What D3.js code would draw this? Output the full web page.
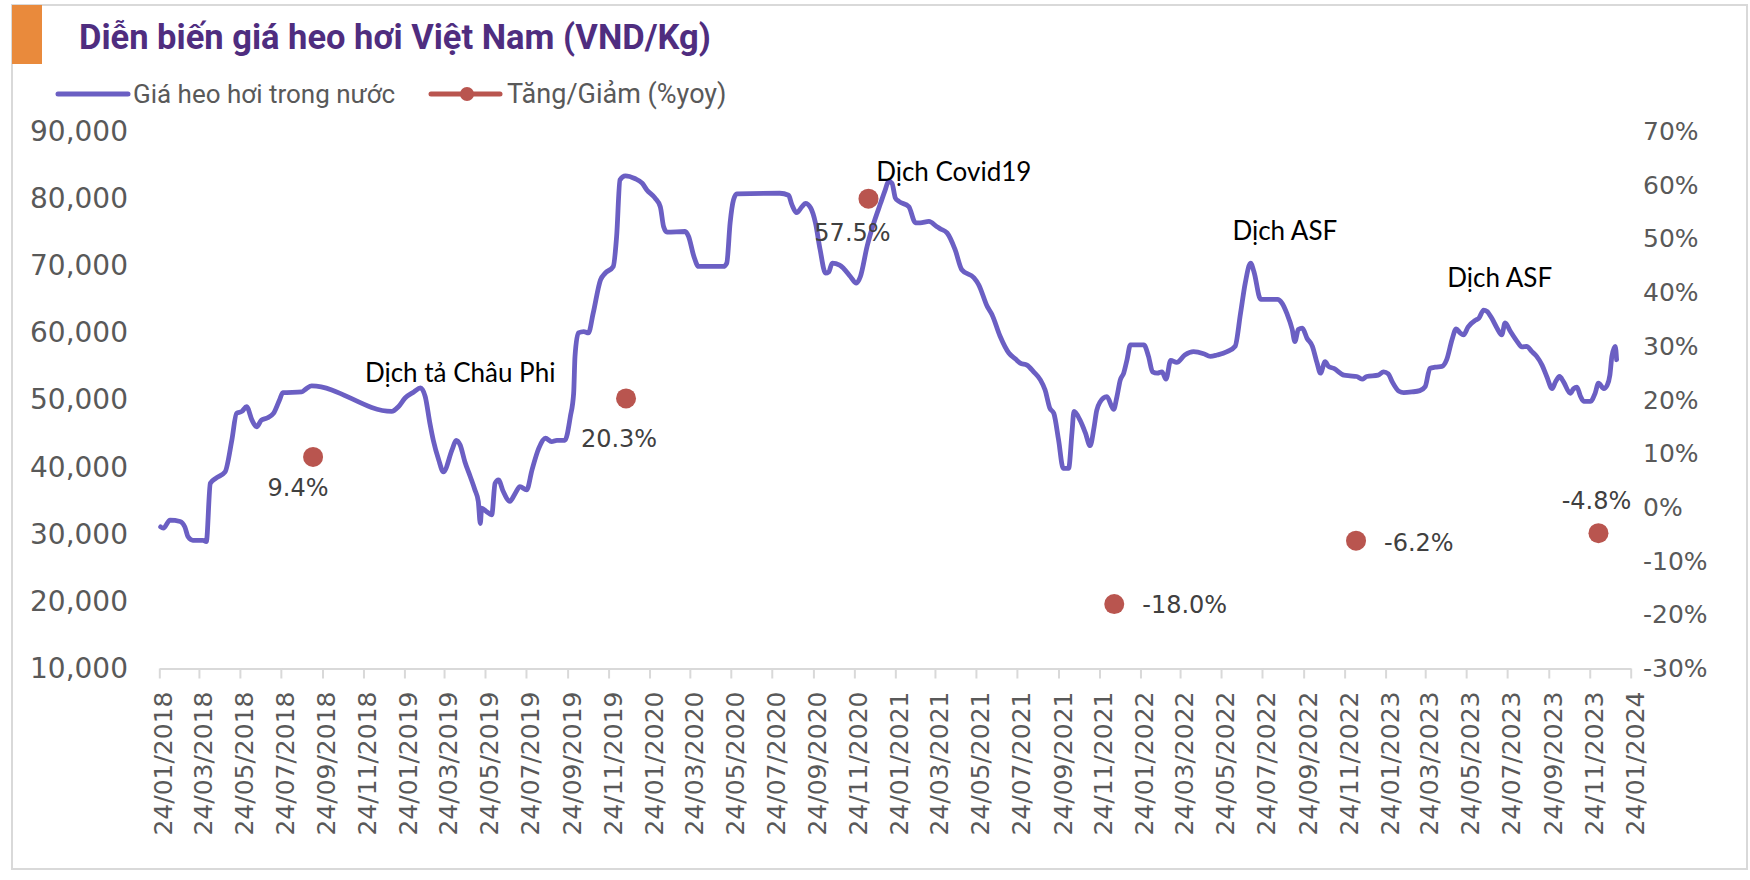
<!DOCTYPE html>
<html lang="vi">
<head>
<meta charset="utf-8">
<title>Diễn biến giá heo hơi Việt Nam</title>
<style>
  body { margin: 0; background: #fff; }
  svg { display: block; }
  .axis text { fill: #595959; font-family: "DejaVu Sans", sans-serif; }
  .axis .domain, .axis line { stroke: #d9d9d9; stroke-width: 2; }
</style>
</head>
<body>
<div id="chart"></div>
<script src="https://cdnjs.cloudflare.com/ajax/libs/d3/7.8.5/d3.min.js"></script>
<script>
// weekly live hog price, VND/kg
var priceDates = [
  "2018-01-26","2018-01-30","2018-02-09","2018-02-24","2018-03-03","2018-03-08","2018-03-15","2018-03-30","2018-04-04","2018-04-10","2018-04-19","2018-05-02","2018-05-12","2018-05-19","2018-05-27","2018-06-03","2018-06-11","2018-06-18","2018-06-25","2018-07-03","2018-07-13","2018-07-22","2018-07-27","2018-08-24","2018-08-31","2018-09-08",
  "2019-01-05","2019-01-15","2019-01-25","2019-02-07","2019-02-17","2019-02-24","2019-03-03","2019-03-08","2019-03-16","2019-03-23","2019-04-05","2019-04-11","2019-04-17","2019-04-24","2019-05-02","2019-05-09","2019-05-14","2019-05-17","2019-05-19","2019-05-26","2019-06-03","2019-06-08","2019-06-13","2019-06-20","2019-06-30","2019-07-08","2019-07-15","2019-07-25","2019-08-02","2019-08-12","2019-08-22","2019-08-31","2019-09-08","2019-09-20","2019-09-28","2019-10-03","2019-10-05","2019-10-10","2019-10-18","2019-10-25","2019-11-01","2019-11-12","2019-11-19","2019-12-01","2019-12-06","2019-12-11","2019-12-19",
  "2020-01-02","2020-01-13","2020-01-20","2020-02-01","2020-02-09","2020-02-14","2020-02-19","2020-03-17","2020-03-22","2020-03-30","2020-04-06","2020-05-13","2020-05-18","2020-05-23","2020-05-28","2020-06-02","2020-08-05","2020-08-18","2020-08-23","2020-08-30","2020-09-07","2020-09-12","2020-09-20","2020-09-27","2020-10-04","2020-10-12","2020-10-17","2020-10-22","2020-11-02","2020-11-08","2020-11-18","2020-11-27","2020-12-03","2020-12-13","2020-12-23",
  "2021-01-02","2021-01-09","2021-01-14","2021-01-19","2021-01-24","2021-01-29","2021-02-13","2021-02-23","2021-03-02","2021-03-15","2021-03-27","2021-04-01","2021-04-11","2021-04-23","2021-05-03","2021-05-21","2021-05-28","2021-06-10","2021-06-17","2021-06-29","2021-07-12","2021-07-22","2021-07-29","2021-08-08","2021-08-18","2021-08-28","2021-09-04","2021-09-11","2021-09-17","2021-09-24","2021-10-01","2021-10-09","2021-10-14","2021-10-17","2021-10-26","2021-11-03","2021-11-10","2021-11-16","2021-11-20","2021-11-30","2021-12-05","2021-12-15","2021-12-20","2021-12-25","2021-12-30",
  "2022-01-04","2022-01-09","2022-01-29","2022-02-05","2022-02-11","2022-02-18","2022-02-25","2022-03-03","2022-03-10","2022-03-19","2022-03-31","2022-04-13","2022-04-28","2022-05-08","2022-05-18","2022-06-02","2022-06-14","2022-06-22","2022-06-29","2022-07-07","2022-07-12","2022-07-22","2022-08-16","2022-08-23","2022-08-30","2022-09-07","2022-09-11","2022-09-16","2022-09-22","2022-09-29","2022-10-07","2022-10-14","2022-10-19","2022-10-26","2022-10-31","2022-11-08","2022-11-23","2022-12-02","2022-12-12","2022-12-20","2022-12-27",
  "2023-01-13","2023-01-21","2023-01-28","2023-02-03","2023-02-13","2023-02-20","2023-03-04","2023-03-16","2023-03-24","2023-03-31","2023-04-08","2023-04-18","2023-04-25","2023-05-03","2023-05-09","2023-05-15","2023-05-20","2023-05-27","2023-06-07","2023-06-12","2023-06-19","2023-06-24","2023-07-01","2023-07-09","2023-07-16","2023-07-21","2023-07-29","2023-08-08","2023-08-15","2023-08-22","2023-08-30","2023-09-06","2023-09-14","2023-09-21","2023-09-29","2023-10-04","2023-10-10","2023-10-16","2023-10-26","2023-10-31","2023-11-05","2023-11-10","2023-11-15","2023-11-25","2023-12-02","2023-12-07","2023-12-15","2023-12-20","2023-12-24","2023-12-27","2024-01-01","2024-01-03"
];
var priceValues = [
  31100,30900,32100,31900,31100,29600,29100,29100,28900,37600,38400,39300,44000,48000,48300,49000,47000,46000,47000,47300,48000,50000,51100,51200,51700,52100,
  48300,49000,50300,51200,51800,50500,46500,44000,41100,39300,42600,44000,43300,40800,38600,36600,34900,31600,33900,33400,32900,37600,38100,36400,34900,36100,37100,36600,39600,42800,44300,43800,44000,44000,47500,51000,56500,60000,60200,60000,62900,67900,68900,69900,74400,82800,83400,
  83000,82300,81300,80100,78800,75800,75000,75100,74400,71400,69900,69900,70400,76400,79800,80700,80800,80500,79100,77900,78800,79300,78600,76400,72400,68900,69100,70400,70100,69600,68400,67400,68400,72900,76400,
  79300,81300,82600,82300,80100,79600,78800,76400,76400,76600,75800,75500,74900,72400,69400,68200,67200,63900,62700,59500,57000,56100,55500,55200,54200,53000,51500,48800,48000,44100,39800,39800,45100,48300,47000,45100,43200,46000,48500,50300,50500,48600,50500,53000,54000,
  56000,58200,58200,56500,54200,54000,54200,53100,55900,55600,56700,57200,56900,56500,56700,57200,58000,62900,67400,70400,69100,65000,65000,64400,62900,60500,58700,60500,60700,59200,58000,55500,54000,55700,55000,54700,53700,53600,53500,53100,53500,
  53700,54200,53900,52700,51300,51100,51200,51400,52000,54700,54900,55000,56000,59000,60600,60000,59700,60900,61900,62200,63400,63200,62200,60700,59700,61500,60200,58700,57900,58000,57200,56500,55200,53500,51700,52700,53500,52700,51000,51700,51900,50600,49800,49800,51000,52500,51700,52200,53700,56500,58000,56000
];

// year-on-year change points
var yoyDates = ["2018-09-10","2019-12-20","2020-12-15","2021-12-16","2022-12-11","2023-12-07"];
var yoyValues = [0.094, 0.203, 0.575, -0.180, -0.062, -0.048];

// event notes (centred on date / price)
var noteTexts = ["Dịch tả Châu Phi", "Dịch Covid19", "Dịch ASF", "Dịch ASF"];
var noteDates = ["2019-04-17", "2021-04-21", "2022-08-27", "2023-07-13"];
var noteValues = [52700, 82650, 73860, 66850];

var xTickLabels = [
  "24/01/2018","24/03/2018","24/05/2018","24/07/2018","24/09/2018","24/11/2018",
  "24/01/2019","24/03/2019","24/05/2019","24/07/2019","24/09/2019","24/11/2019",
  "24/01/2020","24/03/2020","24/05/2020","24/07/2020","24/09/2020","24/11/2020",
  "24/01/2021","24/03/2021","24/05/2021","24/07/2021","24/09/2021","24/11/2021",
  "24/01/2022","24/03/2022","24/05/2022","24/07/2022","24/09/2022","24/11/2022",
  "24/01/2023","24/03/2023","24/05/2023","24/07/2023","24/09/2023","24/11/2023",
  "24/01/2024"
];
var leftTicks = [10000, 20000, 30000, 40000, 50000, 60000, 70000, 80000, 90000];
var rightTicks = [-0.3, -0.2, -0.1, 0, 0.1, 0.2, 0.3, 0.4, 0.5, 0.6, 0.7];

var w = 1750, h = 880;
var parseISO = d3.timeParse("%Y-%m-%d");
var parseTick = d3.timeParse("%d/%m/%Y");
var fmtTick = d3.timeFormat("%d/%m/%Y");
var fmtPct0 = d3.format(".0%");
var fmtPct1 = d3.format(".1%");
function hyphen(s) { return s.replace("\u2212", "-"); }

var tickDates = xTickLabels.map(parseTick);

var xScale = d3.scaleTime()
  .domain([tickDates[0], tickDates[tickDates.length - 1]])
  .range([159.3, 1630.7]);
var yLeft = d3.scaleLinear().domain([10000, 90000]).range([668.5, 131.5]);
var yRight = d3.scaleLinear().domain([-0.3, 0.7]).range([668.5, 131.5]);

var svg = d3.select("#chart").append("svg")
  .attr("width", w)
  .attr("height", h);

// frame + header block
svg.append("rect")
  .attr("x", 12).attr("y", 5)
  .attr("width", 1735).attr("height", 864)
  .attr("fill", "#fff")
  .attr("stroke", "#d9d9d9")
  .attr("stroke-width", 2);

svg.append("rect")
  .attr("x", 12).attr("y", 5)
  .attr("width", 30).attr("height", 59)
  .attr("fill", "#e98a3c");

svg.append("text")
  .attr("x", 79).attr("y", 49)
  .attr("font-family", "Roboto, sans-serif")
  .attr("font-weight", 700)
  .attr("font-size", 34.5)
  .attr("fill", "#4f2d7f")
  .text("Diễn biến giá heo hơi Việt Nam (VND/Kg)");

// legend
var lg = svg.append("g").attr("font-family", "Roboto, sans-serif").attr("font-size", 26).attr("fill", "#595959");
lg.append("line").attr("x1", 58).attr("x2", 128).attr("y1", 94).attr("y2", 94)
  .attr("stroke", "#6b5fc3").attr("stroke-width", 5).attr("stroke-linecap", "round");
lg.append("text").attr("x", 133).attr("y", 94).attr("dy", "0.35em").text("Giá heo hơi trong nước");
lg.append("line").attr("x1", 431).attr("x2", 500).attr("y1", 94).attr("y2", 94)
  .attr("stroke", "#b9554f").attr("stroke-width", 5).attr("stroke-linecap", "round");
lg.append("circle").attr("cx", 467).attr("cy", 94).attr("r", 7).attr("fill", "#b9554f");
lg.append("text").attr("x", 507).attr("y", 94).attr("dy", "0.35em").attr("font-size", 27).text("Tăng/Giảm (%yoy)");

// axes
var xAxis = d3.axisBottom(xScale)
  .tickValues(tickDates)
  .tickFormat(fmtTick)
  .tickSize(10)
  .tickSizeOuter(0);

var gx = svg.append("g")
  .attr("class", "axis")
  .attr("transform", "translate(0," + 668.5 + ")")
  .call(xAxis);
gx.selectAll("text")
  .attr("font-size", 25)
  .attr("text-anchor", "end")
  .attr("x", 0).attr("y", 0)
  .attr("dy", "0.5em")
  .attr("transform", "translate(0,23) rotate(-90)");

var gl = svg.append("g")
  .attr("class", "axis")
  .attr("transform", "translate(128,0)")
  .call(d3.axisLeft(yLeft).tickValues(leftTicks).tickFormat(d3.format(",")).tickSize(0).tickPadding(0));
gl.select(".domain").remove();
gl.selectAll("text").attr("font-size", 28);

var gr = svg.append("g")
  .attr("class", "axis")
  .attr("transform", "translate(1643,0)")
  .call(d3.axisRight(yRight).tickValues(rightTicks).tickFormat(function(d) { return hyphen(fmtPct0(d)); }).tickSize(0).tickPadding(0));
gr.select(".domain").remove();
gr.selectAll("text").attr("font-size", 25);

// price line
var series = priceDates.map(function(d, i) { return { date: parseISO(d), value: priceValues[i] }; });

var line = d3.line()
  .x(function(d) { return xScale(d.date); })
  .y(function(d) { return yLeft(d.value); })
  .curve(d3.curveMonotoneX);

svg.append("path")
  .datum(series)
  .attr("d", line)
  .attr("fill", "none")
  .attr("stroke", "#6b5fc3")
  .attr("stroke-width", 4.8)
  .attr("stroke-linejoin", "round")
  .attr("stroke-linecap", "round");

// yoy dots + labels
var yoy = yoyDates.map(function(d, i) { return { date: parseISO(d), value: yoyValues[i] }; });
// label placement per point: dx, dy, anchor
var labelPos = [
  [-15, 39, "middle"], [-7, 49, "middle"], [-16, 42, "middle"],
  [28, 9, "start"], [28, 10, "start"], [-2, -24, "middle"]
];

svg.selectAll("circle.yoy")
  .data(yoy)
  .enter()
  .append("circle")
  .attr("class", "yoy")
  .attr("cx", function(d) { return xScale(d.date); })
  .attr("cy", function(d) { return yRight(d.value); })
  .attr("r", 10)
  .attr("fill", "#b9554f");

svg.selectAll("text.yoy")
  .data(yoy)
  .enter()
  .append("text")
  .attr("class", "yoy")
  .attr("x", function(d, i) { return xScale(d.date) + labelPos[i][0]; })
  .attr("y", function(d, i) { return yRight(d.value) + labelPos[i][1]; })
  .attr("text-anchor", function(d, i) { return labelPos[i][2]; })
  .attr("font-family", "'DejaVu Sans', sans-serif")
  .attr("font-size", 24)
  .attr("fill", "#404040")
  .text(function(d) { return hyphen(fmtPct1(d.value)); });

// event notes
svg.selectAll("text.note")
  .data(noteTexts)
  .enter()
  .append("text")
  .attr("class", "note")
  .attr("x", function(d, i) { return xScale(parseISO(noteDates[i])); })
  .attr("y", function(d, i) { return yLeft(noteValues[i]); })
  .attr("text-anchor", "middle")
  .attr("font-family", "Lato, sans-serif")
  .attr("font-size", 26)
  .attr("fill", "#000")
  .text(function(d) { return d; });
</script>
</body>
</html>
